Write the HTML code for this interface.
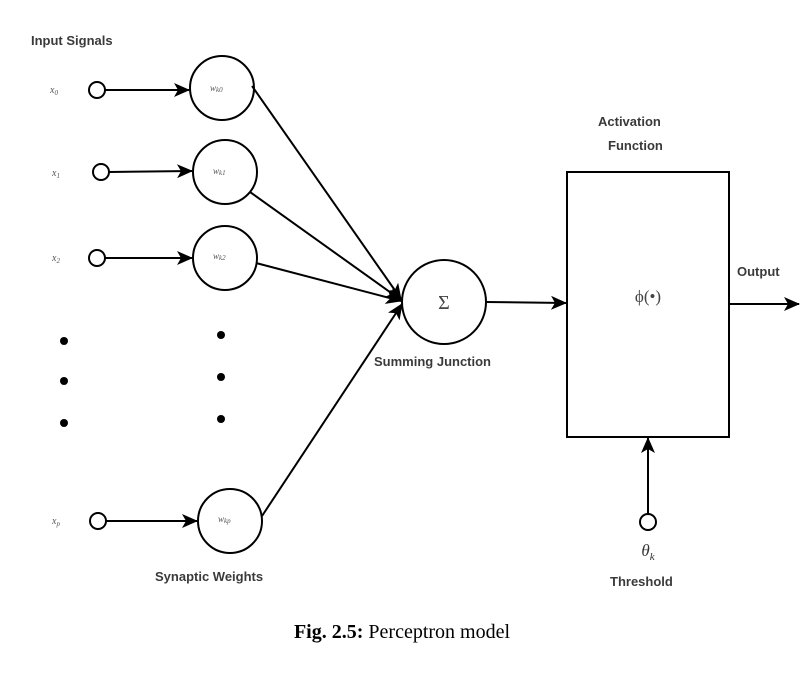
<!DOCTYPE html>
<html><head><meta charset="utf-8"><style>
body{margin:0;background:#fff;}
.s{font-family:"Liberation Sans",sans-serif;}
.r{font-family:"Liberation Serif",serif;}
</style></head><body>
<svg width="805" height="686" viewBox="0 0 805 686" xmlns="http://www.w3.org/2000/svg">
<defs><marker id="a" markerWidth="16" markerHeight="14" refX="15" refY="7" orient="auto" markerUnits="userSpaceOnUse"><path d="M0,0 L16,7 L0,14 L4,7 Z" fill="#000"/></marker></defs>
<g class="s" fill="#3a3a3a" font-size="13" font-weight="bold">
<text x="31" y="45">Input Signals</text>
<text x="598" y="126">Activation</text>
<text x="608" y="150">Function</text>
<text x="737" y="276">Output</text>
<text x="374" y="366">Summing Junction</text>
<text x="155" y="581">Synaptic Weights</text>
<text x="610" y="586">Threshold</text>
</g>
<g class="r" font-style="italic" fill="#555" font-size="10">
<text x="50" y="93">x<tspan font-size="7" dy="2">0</tspan></text>
<text x="52" y="176">x<tspan font-size="7" dy="2">1</tspan></text>
<text x="52" y="261">x<tspan font-size="7" dy="2">2</tspan></text>
<text x="52" y="524">x<tspan font-size="7" dy="2">p</tspan></text>
<text x="210" y="91" font-size="9">w<tspan font-size="7" dy="1">k0</tspan></text>
<text x="213" y="174" font-size="9">w<tspan font-size="7" dy="1">k1</tspan></text>
<text x="213" y="259" font-size="9">w<tspan font-size="7" dy="1">k2</tspan></text>
<text x="218" y="522" font-size="9">w<tspan font-size="7" dy="1">kp</tspan></text>
</g>
<g stroke="#000" stroke-width="2" fill="none">
<circle cx="97" cy="90" r="8"/><circle cx="101" cy="172" r="8"/><circle cx="97" cy="258" r="8"/><circle cx="98" cy="521" r="8"/>
<circle cx="222" cy="88" r="32"/><circle cx="225" cy="172" r="32"/><circle cx="225" cy="258" r="32"/><circle cx="230" cy="521" r="32"/>
<circle cx="444" cy="302" r="42"/>
<rect x="567" y="172" width="162" height="265"/>
<circle cx="648" cy="522" r="8"/>
<g marker-end="url(#a)">
<line x1="105" y1="90" x2="189" y2="90"/>
<line x1="109" y1="172" x2="192" y2="171"/>
<line x1="105" y1="258" x2="192" y2="258"/>
<line x1="106" y1="521" x2="197" y2="521"/>
<line x1="252" y1="86" x2="401" y2="299"/>
<line x1="250" y1="192" x2="401" y2="300"/>
<line x1="256" y1="263" x2="401" y2="301"/>
<line x1="262" y1="516" x2="402" y2="304"/>
<line x1="486" y1="302" x2="566" y2="303"/>
<line x1="729" y1="304" x2="799" y2="304"/>
<line x1="648" y1="513" x2="648" y2="438"/>
</g>
</g>
<g fill="#000">
<circle cx="64" cy="341" r="4"/><circle cx="64" cy="381" r="4"/><circle cx="64" cy="423" r="4"/>
<circle cx="221" cy="335" r="4"/><circle cx="221" cy="377" r="4"/><circle cx="221" cy="419" r="4"/>
</g>
<text class="r" x="444" y="309" font-size="20" text-anchor="middle" fill="#444">Σ</text>
<text class="r" x="648" y="302" font-size="17" text-anchor="middle" fill="#444">ϕ(•)</text>
<text class="r" x="648" y="556" font-style="italic" font-size="17" text-anchor="middle" fill="#333">θ<tspan font-size="11" dy="4">k</tspan></text>
<text class="r" x="402" y="638" font-size="20" text-anchor="middle" fill="#000"><tspan font-weight="bold">Fig. 2.5:</tspan> Perceptron model</text>
</svg>
</body></html>
